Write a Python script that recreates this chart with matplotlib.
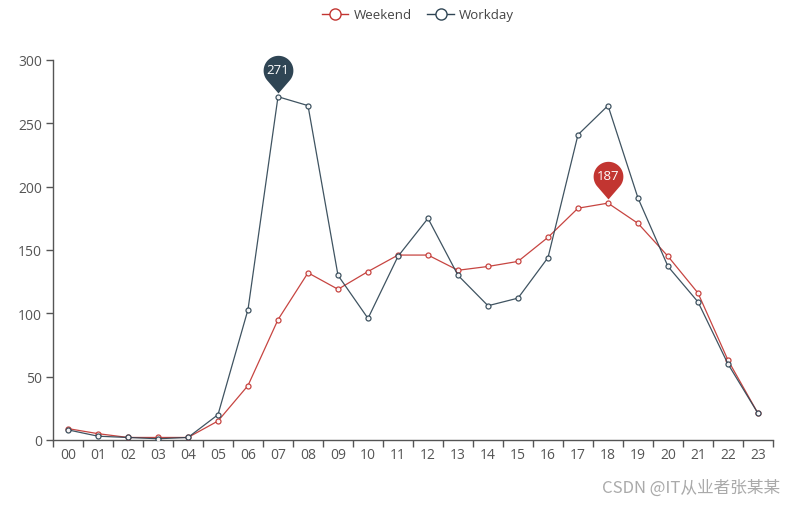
import matplotlib
matplotlib.use("Agg")
import matplotlib.pyplot as plt
import numpy as np
from matplotlib.path import Path
from matplotlib.lines import Line2D

hours = ["00", "01", "02", "03", "04", "05", "06", "07", "08", "09", "10", "11",
         "12", "13", "14", "15", "16", "17", "18", "19", "20", "21", "22", "23"]
weekend = [9, 5, 2, 2, 2, 15, 43, 95, 132, 119, 133, 146,
           146, 134, 137, 141, 160, 183, 187, 171, 145, 116, 63, 21]
workday = [8, 3, 2, 1, 2, 20, 103, 271, 264, 130, 96, 145,
           175, 130, 106, 112, 144, 241, 264, 191, 137, 109, 60, 21]
series_names = ["Weekend", "Workday"]
colors = ["#c23531", "#2f4554"]
yticks = [0, 50, 100, 150, 200, 250, 300]

plt.rcParams['font.family'] = ['Open Sans', 'DejaVu Sans']

fig = plt.figure(figsize=(7.96, 5.06), dpi=100)
ax = fig.add_axes([53/796, 65/506, 720/796, 380/506])

x = np.arange(len(hours))
for vals, c, name in zip([weekend, workday], colors, series_names):
    ax.plot(x, vals, color=c, lw=0.9, marker='o', markersize=3.6,
            markerfacecolor='white', markeredgecolor=c, markeredgewidth=0.9,
            label=name, zorder=3, alpha=0.92)

# pin marker path (tip near origin)
r = 1.0
tip_off = 0.27
d = 1.53
cy = tip_off + d
phi = np.degrees(np.arccos(r / d))
a0 = -90 + phi
a1 = 270 - phi
angs = np.radians(np.linspace(a0, a1, 60))
verts = [(r * np.cos(a), cy + r * np.sin(a)) for a in angs]
verts = [(0, tip_off)] + verts + [(0, tip_off)]
codes = [Path.MOVETO] + [Path.LINETO] * (len(verts) - 2) + [Path.CLOSEPOLY]
pin = Path(verts, codes)

for vals, c in zip([weekend, workday], colors):
    i = int(np.argmax(vals))
    ax.plot([x[i]], [vals[i]], marker=pin, markersize=60, color=c,
            markeredgewidth=0, zorder=5, clip_on=False)
    ax.annotate(str(vals[i]), (x[i], vals[i]), xytext=(0, 19.6),
                textcoords='offset points', ha='center', va='center',
                color='white', fontsize=9.5, zorder=6)

ax.set_xlim(-0.5, len(hours) - 0.5)
ax.set_ylim(0, 300)
ax.set_yticks(yticks)
ax.set_xticks(np.arange(-0.5, len(hours), 1.0))
ax.set_xticklabels([])
ax.set_xticks(x, minor=True)
ax.set_xticklabels(hours, minor=True)
ax.tick_params(axis='x', which='major', length=5, color='#555555', width=1)
ax.tick_params(axis='x', which='minor', length=0, pad=5, labelsize=10, labelcolor='#555555')
ax.tick_params(axis='y', length=5, color='#555555', width=1, labelsize=10, labelcolor='#555555', pad=3)
for s in ['top', 'right']:
    ax.spines[s].set_visible(False)
for s in ['left', 'bottom']:
    ax.spines[s].set_color('#555555')
    ax.spines[s].set_linewidth(1)

handles = [Line2D([], [], color=c, lw=1.0, marker='o', markersize=8,
                  markerfacecolor='white', markeredgecolor=c, markeredgewidth=1.0)
           for c in colors]
fig.legend(handles, series_names, loc='upper center', bbox_to_anchor=(418/796, 1.005),
           ncol=2, frameon=False, fontsize=9.5, handlelength=2.0, columnspacing=1.2,
           handletextpad=0.4, labelcolor='#444444')

fig.text(780/796, 1 - 488/506, "CSDN @IT从业者张某某", ha='right', va='center',
         fontsize=12, color='#aaaaaa',
         family=['Noto Sans CJK SC', 'DejaVu Sans'])

fig.savefig("out.png", dpi=100)
